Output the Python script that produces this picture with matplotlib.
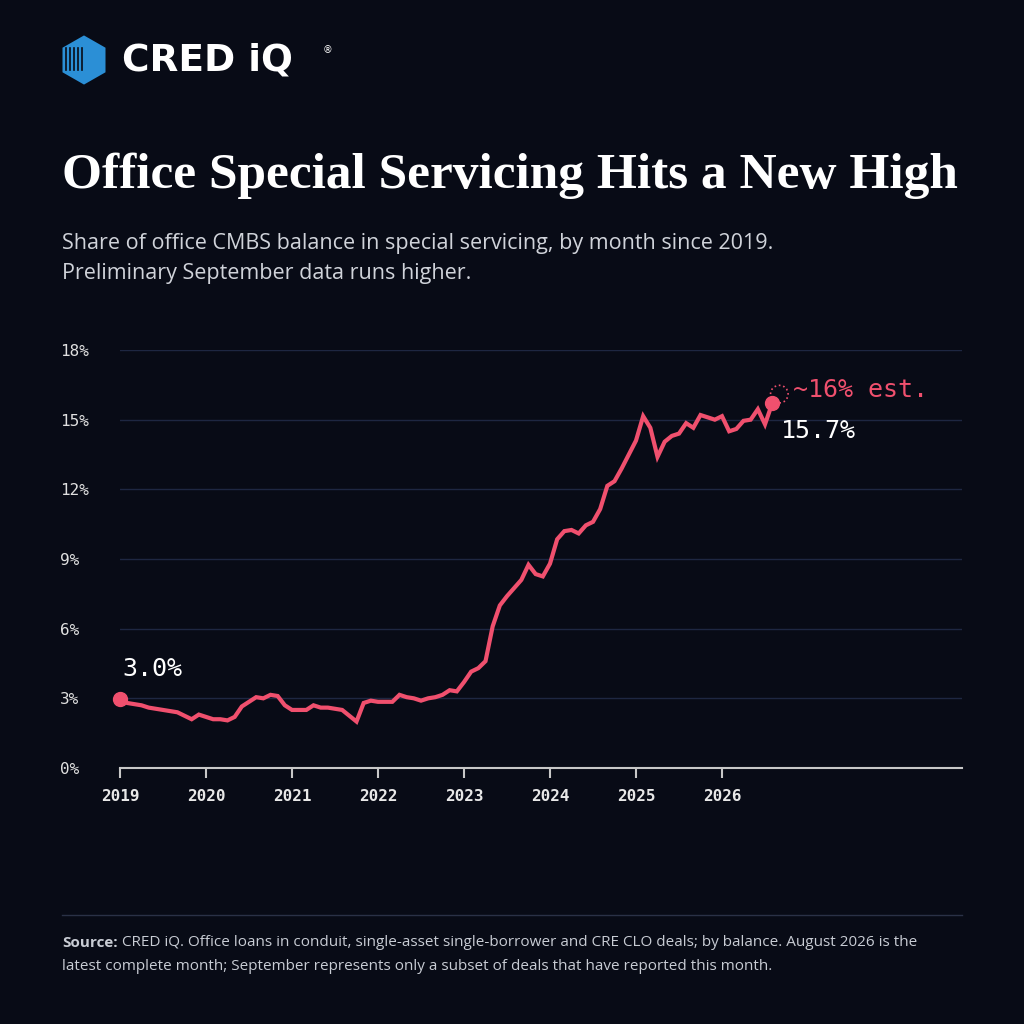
import matplotlib
matplotlib.use("Agg")
import matplotlib.pyplot as plt
import numpy as np
from matplotlib.patches import Polygon

values = [
 2.95,2.8,2.75,2.7,2.6,2.55,2.5,2.45,2.4,2.25,2.1,2.3,
 2.2,2.1,2.1,2.05,2.2,2.65,2.85,3.05,3.0,3.15,3.1,2.7,
 2.5,2.5,2.5,2.7,2.6,2.6,2.55,2.5,2.25,2.0,2.8,2.9,
 2.85,2.85,2.85,3.15,3.05,3.0,2.9,3.0,3.05,3.15,3.35,3.3,
 3.7,4.15,4.3,4.6,6.1,7.0,7.4,7.75,8.1,8.75,8.35,8.25,
 8.8,9.85,10.2,10.25,10.1,10.45,10.6,11.15,12.15,12.35,12.9,13.5,
 14.1,15.15,14.65,13.4,14.05,14.3,14.4,14.85,14.65,15.2,15.1,15.0,
 15.15,14.5,14.6,14.95,15.0,15.45,14.8,15.7]
est_value = 16.1
years = [2019,2020,2021,2022,2023,2024,2025,2026]
yticks = [0,3,6,9,12,15,18]

BG = "#080b16"; RED = "#f0506e"; GRID = "#1e2742"
x = 2019 + np.arange(len(values))/12.0
x_est = x[-1] + 1/12

fig = plt.figure(figsize=(10.24,10.24), dpi=100, facecolor=BG)
ax = fig.add_axes([120/1024, 0.25, 842/1024, 418/1024])
ax.set_facecolor(BG)
ax.set_xlim(2019, 2019 + 842/86.0)
ax.set_ylim(0, 18)
for v in yticks[1:]:
    ax.axhline(v, color=GRID, lw=1, zorder=0)
for s in ["left","right","top"]:
    ax.spines[s].set_visible(False)
ax.spines["bottom"].set_color("#c8c8c8"); ax.spines["bottom"].set_linewidth(1.5)
ax.set_xticks(years); ax.set_xticklabels([str(y) for y in years])
ax.set_yticks(yticks); ax.set_yticklabels([f"{v}%" for v in yticks])
ax.tick_params(axis="x", colors="#c8c8c8", length=7, width=1.5, pad=8, labelcolor="#e8e8e8")
ax.tick_params(axis="y", length=0, pad=43, labelcolor="#e0e0e0")
for lab in ax.get_xticklabels()+ax.get_yticklabels():
    lab.set_fontfamily("DejaVu Sans Mono"); lab.set_fontsize(11.5)
for lab in ax.get_xticklabels(): lab.set_fontweight("bold")
for lab in ax.get_yticklabels(): lab.set_horizontalalignment("left")

ax.plot(x, values, color=RED, lw=3, solid_joinstyle="miter", zorder=3, clip_on=False)
ax.plot([x[0]], [values[0]], "o", color=RED, ms=10, zorder=4, clip_on=False)
ax.plot([x[-1]], [values[-1]], "o", color=RED, ms=10, zorder=4, clip_on=False)
ax.scatter([x_est], [est_value], s=160, facecolors="none", edgecolors=RED, linewidths=1.2, linestyles=":", zorder=4)
ax.annotate("~16% est.", (x_est, est_value), xytext=(10, 3), textcoords="offset points",
            color=RED, fontsize=18, family="DejaVu Sans Mono", va="center")
ax.annotate(f"{values[-1]:.1f}%", (x[-1], values[-1]), xytext=(6, -20), textcoords="offset points",
            color="white", fontsize=18, family="DejaVu Sans Mono", va="center")
ax.annotate(f"{values[0]:.1f}%", (x[0], values[0]), xytext=(2, 22), textcoords="offset points",
            color="white", fontsize=18, family="DejaVu Sans Mono", va="center")

# logo
lx, ly = 84/1024, 1-60/1024
hexa = Polygon([(lx-0.021, ly+0.012),(lx, ly+0.024),(lx+0.021, ly+0.012),(lx+0.021, ly-0.012),(lx, ly-0.024),(lx-0.021, ly-0.012)],
               closed=True, transform=fig.transFigure, facecolor="#2b8fd6", edgecolor="none")
fig.patches.append(hexa)
for i in range(5):
    fig.lines.append(plt.Line2D([lx-0.018+i*0.004, lx-0.018+i*0.004],[ly-0.010, ly+0.012], transform=fig.transFigure, color=BG, lw=1.2))
fig.text(122/1024, ly, "CRED iQ", color="white", fontsize=27, family="DejaVu Sans", weight="bold", va="center")
fig.text(323/1024, 1-50/1024, "®", color="white", fontsize=7, va="center")

fig.text(62/1024, 1-176/1024, "Office Special Servicing Hits a New High", color="white",
         fontsize=37, family="Liberation Serif", weight="bold", va="center")
fig.text(62/1024, 1-244/1024, "Share of office CMBS balance in special servicing, by month since 2019.",
         color="#d0d3da", fontsize=15.5, family="Open Sans", va="center")
fig.text(62/1024, 1-274/1024, "Preliminary September data runs higher.",
         color="#d0d3da", fontsize=15.5, family="Open Sans", va="center")

fig.lines.append(plt.Line2D([62/1024, 962/1024],[1-915/1024]*2, transform=fig.transFigure, color="#2a3146", lw=1))
t = fig.text(62/1024, 1-943/1024, "Source:", color="#c8ccd4", fontsize=11, family="Open Sans", weight="bold", va="center")
fig.canvas.draw()
w = t.get_window_extent().width/1024
fig.text(62/1024 + w + 4/1024, 1-943/1024, "CRED iQ. Office loans in conduit, single-asset single-borrower and CRE CLO deals; by balance. August 2026 is the",
         color="#c8ccd4", fontsize=11, family="Open Sans", va="center")
fig.text(62/1024, 1-966/1024, "latest complete month; September represents only a subset of deals that have reported this month.",
         color="#c8ccd4", fontsize=11, family="Open Sans", va="center")

fig.savefig("out.png", dpi=100, facecolor=BG)
